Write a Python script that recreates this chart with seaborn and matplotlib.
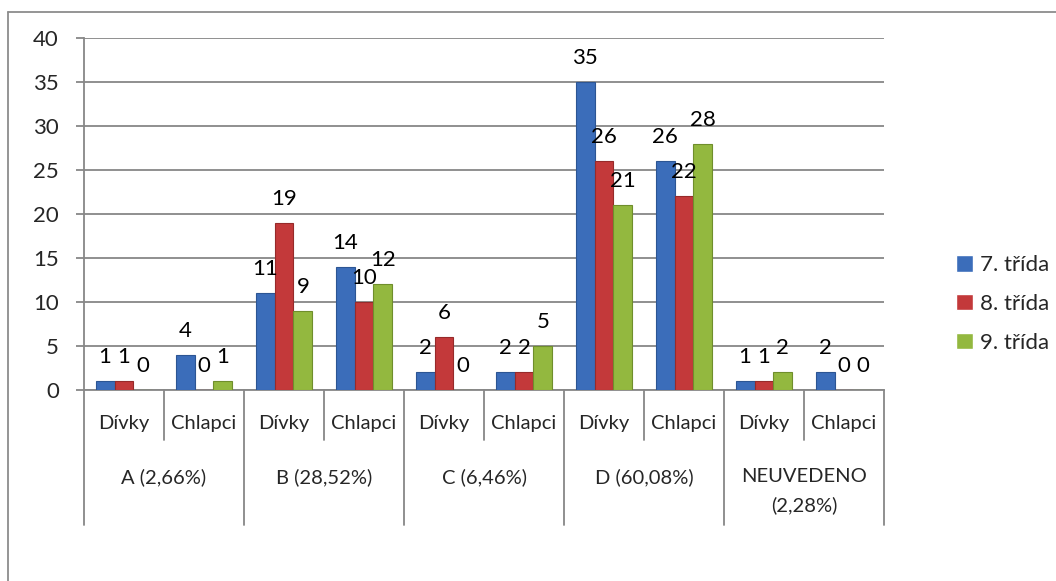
import pandas as pd
import seaborn as sns
import matplotlib.pyplot as plt
from matplotlib.transforms import blended_transform_factory


# Data

groups = ["A (2,66%)", "B (28,52%)", "C (6,46%)", "D (60,08%)", "NEUVEDENO\n(2,28%)"]
genders = ["Dívky", "Chlapci"]
classes = ["7. třída", "8. třída", "9. třída"]

trida_7 = [1, 4, 11, 14, 2, 2, 35, 26, 1, 2]
trida_8 = [1, 0, 19, 10, 6, 2, 26, 22, 1, 0]
trida_9 = [0, 1, 9, 12, 0, 5, 21, 28, 2, 0]

bar_colors = ["#3B6DBA", "#C3393A", "#93B83F"]
edge_colors = ["#2C5593", "#962A2A", "#6F8E2C"]


# Long format table for seaborn

slots = [g + "|" + s for g in groups for s in genders]
rows = []
for cls, vals in zip(classes, [trida_7, trida_8, trida_9]):
    for slot, v in zip(slots, vals):
        rows.append({"slot": slot, "trida": cls, "pocet": v})
df = pd.DataFrame(rows)


# Plot

sns.set_style("white")
plt.rcParams["font.family"] = ["Lato", "DejaVu Sans"]

fig = plt.figure(figsize=(10.56, 5.81), dpi=100)
ax = fig.add_axes([84 / 1056, 1 - 390 / 581, 800 / 1056, 352 / 581])

sns.barplot(data=df, x="slot", y="pocet", hue="trida", order=slots, hue_order=classes,
            palette=bar_colors, saturation=1, width=0.71, gap=0, ax=ax, zorder=3, legend=True)

for i, cont in enumerate(ax.containers):
    for bar in cont:
        bar.set_edgecolor(edge_colors[i])
        bar.set_linewidth(0.8)
    for bar, v in zip(cont, [trida_7, trida_8, trida_9][i]):
        ax.annotate(str(v), (bar.get_x() + bar.get_width() / 2, v),
                    xytext=(0, 18), textcoords="offset pixels",
                    ha="center", va="baseline", fontsize=16, color="black")

ax.set_ylim(0, 40)
ax.set_xlim(-0.5, len(slots) - 0.5)
ax.set_yticks(range(0, 41, 5))
ax.yaxis.grid(True, color="#878787", linewidth=1.3, zorder=0)
ax.set_axisbelow(True)
ax.tick_params(axis="y", labelsize=16, length=6, width=1.3, color="#878787", left=True, pad=12)
ax.set_xticks([])
ax.set_xlabel("")
ax.set_ylabel("")
for side in ["top", "right"]:
    ax.spines[side].set_visible(False)
for side in ["left", "bottom"]:
    ax.spines[side].set_color("#878787")
    ax.spines[side].set_linewidth(1.3)

# Two level category axis
trans = blended_transform_factory(ax.transData, ax.transAxes)
for k in range(len(slots) + 1):
    x = k - 0.5
    low = -0.3835 if k % 2 == 0 else -0.142
    ax.plot([x, x], [0, low], transform=trans, color="#878787", lw=1.3, clip_on=False)

for k, slot in enumerate(slots):
    ax.text(k, -0.094, slot.split("|")[1], transform=trans, ha="center", va="center",
            fontsize=14.5)

for j, g in enumerate(groups):
    ax.text(2 * j + 0.5, -0.222, g, transform=trans, ha="center", va="top",
            fontsize=14.5, linespacing=1.75)

# Legend on the right
handles, labels = ax.get_legend_handles_labels()
ax.get_legend().remove()
fig.legend(handles, labels, loc="center left", bbox_to_anchor=(936 / 1056, 1 - 304 / 581),
           frameon=False, fontsize=16, handlelength=0.75, handleheight=0.75,
           handletextpad=0.35, labelspacing=0.85)

# Outer chart frame
fig.add_artist(plt.Line2D([8 / 1056, 1], [1 - 12 / 581, 1 - 12 / 581], color="#8C8C8C", lw=1.3))
fig.add_artist(plt.Line2D([8 / 1056, 8 / 1056], [0, 1 - 12 / 581], color="#8C8C8C", lw=1.3))

fig.savefig("out.png", dpi=100)
